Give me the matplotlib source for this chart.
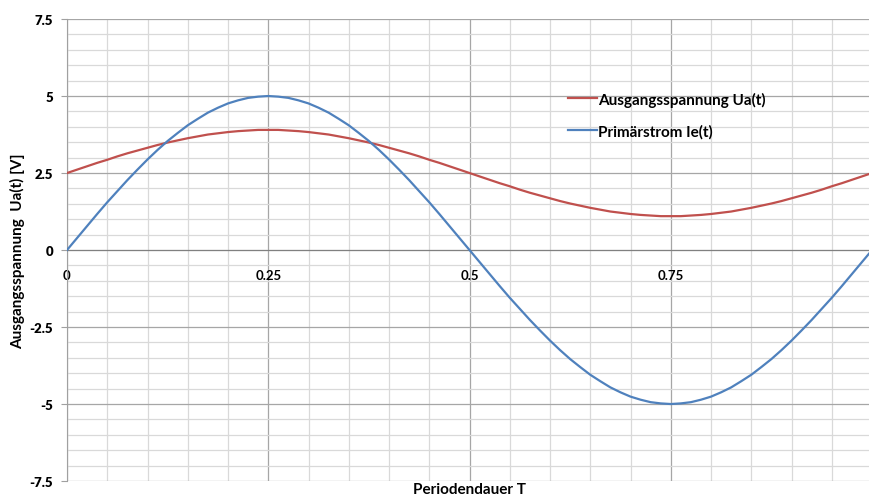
import matplotlib
matplotlib.use('Agg')
import matplotlib.pyplot as plt
from matplotlib.ticker import MultipleLocator, FormatStrFormatter

plt.rcParams['font.family'] = ['Lato', 'DejaVu Sans']
plt.rcParams['font.weight'] = 'bold'

# Periodendauer (Anteil von T), Ablesung alle 0.0125
t = [i / 80 for i in range(81)]

# Ausgangsspannung Ua(t) in V
ua = [2.50, 2.61, 2.72, 2.83, 2.93, 3.04, 3.14, 3.23, 3.32, 3.41,
      3.49, 3.56, 3.63, 3.69, 3.75, 3.79, 3.83, 3.86, 3.88, 3.90,
      3.90, 3.90, 3.88, 3.86, 3.83, 3.79, 3.75, 3.69, 3.63, 3.56,
      3.49, 3.41, 3.32, 3.23, 3.14, 3.04, 2.93, 2.83, 2.72, 2.61,
      2.50, 2.39, 2.28, 2.17, 2.07, 1.96, 1.86, 1.77, 1.68, 1.59,
      1.51, 1.44, 1.37, 1.31, 1.25, 1.21, 1.17, 1.14, 1.12, 1.10,
      1.10, 1.10, 1.12, 1.14, 1.17, 1.21, 1.25, 1.31, 1.37, 1.44,
      1.51, 1.59, 1.68, 1.77, 1.86, 1.96, 2.07, 2.17, 2.28, 2.39,
      2.50]

# Primärstrom Ie(t)
ie = [0.00, 0.39, 0.78, 1.17, 1.55, 1.91, 2.27, 2.61, 2.94, 3.25,
      3.54, 3.80, 4.05, 4.26, 4.46, 4.62, 4.76, 4.86, 4.94, 4.98,
      5.00, 4.98, 4.94, 4.86, 4.76, 4.62, 4.46, 4.26, 4.05, 3.80,
      3.54, 3.25, 2.94, 2.61, 2.27, 1.91, 1.55, 1.17, 0.78, 0.39,
      0.00, -0.39, -0.78, -1.17, -1.55, -1.91, -2.27, -2.61, -2.94, -3.25,
      -3.54, -3.80, -4.05, -4.26, -4.46, -4.62, -4.76, -4.86, -4.94, -4.98,
      -5.00, -4.98, -4.94, -4.86, -4.76, -4.62, -4.46, -4.26, -4.05, -3.80,
      -3.54, -3.25, -2.94, -2.61, -2.27, -1.91, -1.55, -1.17, -0.78, -0.39,
      0.00]

x_ticks = [0, 0.25, 0.5, 0.75]
x_labels = ['0', '0.25', '0.5', '0.75']
y_ticks = [-7.5, -5, -2.5, 0, 2.5, 5, 7.5]
y_labels = ['-7.5', '-5', '-2.5', '0', '2.5', '5', '7.5']

fig = plt.figure(figsize=(8.69, 5.02), dpi=100)
ax = fig.add_axes([0.0771, 0.0398, 0.9264, 0.9203])

ax.plot(t, ua, color='#c0504d', lw=1.6, label='Ausgangsspannung Ua(t)', zorder=3)
ax.plot(t, ie, color='#4f81bd', lw=1.6, label='Primärstrom Ie(t)', zorder=3)

ax.set_xlim(0, 1)
ax.set_ylim(-7.5, 7.5)
ax.xaxis.set_minor_locator(MultipleLocator(0.05))
ax.yaxis.set_minor_locator(MultipleLocator(0.5))
ax.set_xticks(x_ticks)
ax.set_xticklabels(x_labels, fontweight='heavy')
ax.set_yticks(y_ticks)
ax.set_yticklabels(y_labels, fontweight='heavy')

ax.grid(which='major', color='#a6a6a6', lw=0.9)
ax.grid(which='minor', color='#d9d9d9', lw=0.9)
ax.set_axisbelow(True)

for s in ['top', 'right']:
    ax.spines[s].set_visible(False)
ax.spines['bottom'].set_position(('data', 0))
ax.spines['bottom'].set_color('#808080')
ax.spines['left'].set_color('#a0a0a0')

ax.tick_params(axis='x', which='both', length=0, pad=14, labelsize=9.5, labelcolor='black')
ax.tick_params(axis='y', which='major', length=4, width=0.8, color='#a0a0a0',
               pad=6, labelsize=9.5, labelcolor='black')
ax.tick_params(axis='y', which='minor', length=0)

ax.set_ylabel('Ausgangsspannung  Ua(t) [V]', fontsize=11, fontweight='bold', labelpad=3)
ax.set_xlabel('Periodendauer T', fontsize=11, fontweight='bold')
ax.xaxis.set_label_coords(0.5, -0.002)
ax.xaxis.label.set_verticalalignment('top')

leg = ax.legend(loc='upper left', bbox_to_anchor=(0.622, 0.843), frameon=False,
                fontsize=11, handlelength=1.9, handletextpad=0.1, labelspacing=1.15,
                borderpad=0, borderaxespad=0)
for txt in leg.get_texts():
    txt.set_fontweight('bold')

fig.savefig('out.png', dpi=100)
